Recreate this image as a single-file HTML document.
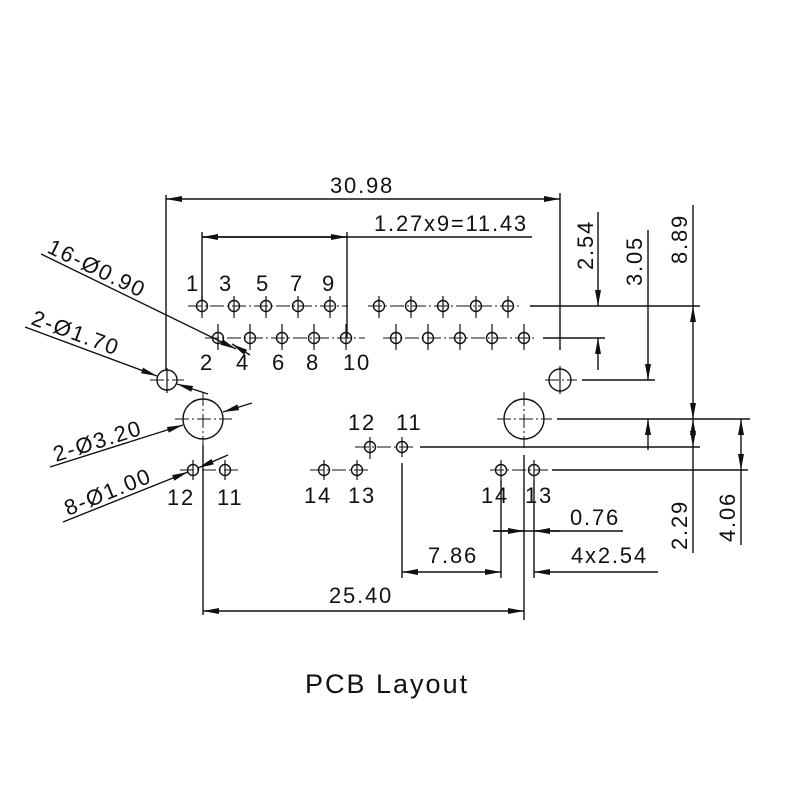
<!DOCTYPE html>
<html><head><meta charset="utf-8"><style>
html,body{margin:0;padding:0;background:#fff;}
svg{display:block;}
text{font-family:"Liberation Sans",sans-serif;fill:#111;font-size:22px;letter-spacing:1.8px;}
</style></head><body>
<svg width="800" height="800" viewBox="0 0 800 800" xmlns="http://www.w3.org/2000/svg">
<defs>
<marker id="a" viewBox="0 0 16 6" refX="16" refY="3" markerWidth="16" markerHeight="6" markerUnits="userSpaceOnUse" orient="auto-start-reverse"><path d="M0,0 L16,3 L0,6 Z" fill="#111"/></marker>
</defs>
<g stroke="#111" stroke-width="1.4" fill="none">
<g stroke-width="1" stroke-dasharray="14,3,2,3">
<line x1="188" y1="306" x2="348" y2="306"/>
<line x1="368" y1="306" x2="520" y2="306"/>
<line x1="205" y1="338" x2="365" y2="338"/>
<line x1="383" y1="338" x2="537" y2="338"/>
<line x1="355" y1="447" x2="415" y2="447"/>
<line x1="310" y1="470" x2="370" y2="470"/>
<line x1="180" y1="470" x2="240" y2="470"/>
<line x1="490" y1="470" x2="548" y2="470"/>
<line x1="150" y1="380" x2="184" y2="380"/>
<line x1="545" y1="380" x2="577" y2="380"/>
<line x1="175" y1="419" x2="232" y2="419"/>
<line x1="497" y1="419" x2="552" y2="419"/>
<line x1="203" y1="392" x2="203" y2="448"/>
<line x1="524" y1="392" x2="524" y2="448"/>
</g>
<g>
<circle cx="202" cy="306" r="5.5"/><circle cx="234" cy="306" r="5.5"/><circle cx="266" cy="306" r="5.5"/><circle cx="298" cy="306" r="5.5"/><circle cx="330" cy="306" r="5.5"/>
<circle cx="379" cy="306" r="5.5"/><circle cx="411" cy="306" r="5.5"/><circle cx="443" cy="306" r="5.5"/><circle cx="476" cy="306" r="5.5"/><circle cx="508" cy="306" r="5.5"/>
<circle cx="218" cy="338" r="5.5"/><circle cx="250" cy="338" r="5.5"/><circle cx="282" cy="338" r="5.5"/><circle cx="314" cy="338" r="5.5"/><circle cx="346" cy="338" r="5.5"/>
<circle cx="396" cy="338" r="5.5"/><circle cx="428" cy="338" r="5.5"/><circle cx="460" cy="338" r="5.5"/><circle cx="492" cy="338" r="5.5"/><circle cx="524" cy="338" r="5.5"/>
<circle cx="370" cy="447" r="5.5"/><circle cx="402" cy="447" r="5.5"/>
<circle cx="324" cy="470" r="5.5"/><circle cx="357" cy="470" r="5.5"/>
<circle cx="193" cy="470" r="5.5"/><circle cx="225" cy="470" r="5.5"/>
<circle cx="501" cy="470" r="5.5"/><circle cx="534" cy="470" r="5.5"/>
<circle cx="167" cy="380" r="10"/><circle cx="560" cy="380" r="11"/>
<circle cx="203" cy="419" r="20"/><circle cx="524" cy="419" r="20"/>
</g>
<g stroke-width="1.2">
<path d="M202 296V318M234 296V318M266 296V318M298 296V318M330 296V318M379 296V318M411 296V318M443 296V318M476 296V318M508 296V318"/>
<path d="M218 324V350M250 324V350M282 324V350M314 324V350M346 324V350M396 324V350M428 324V350M460 324V350M492 324V350M524 324V350"/>
<path d="M370 437V459M402 437V457M324 460V480M357 460V480M193 460V480M225 460V480M501 460V480M534 460V480M167 368V393M560 366V394"/>
</g>
<path d="M166 195V370M560 193V350M202 232V300M347 232V338M202 237H532"/>
<path d="M530 306H700M543 338H605M582 380H655M557 419H750M420 447H700M552 470H748"/>
<path d="M402 463V578M501 480V578M534 480V578M524 455V620M203 445V615M493 531H623"/>
<line x1="166" y1="199" x2="560" y2="199" marker-start="url(#a)" marker-end="url(#a)"/>
<line x1="202" y1="237" x2="347" y2="237" marker-start="url(#a)" marker-end="url(#a)"/>
<line x1="598" y1="212" x2="598" y2="306" marker-end="url(#a)"/>
<line x1="598" y1="370" x2="598" y2="338" marker-end="url(#a)"/>
<line x1="648" y1="230" x2="648" y2="380" marker-end="url(#a)"/>
<line x1="648" y1="450" x2="648" y2="419" marker-end="url(#a)"/>
<line x1="693" y1="306" x2="693" y2="419" marker-start="url(#a)" marker-end="url(#a)"/>
<line x1="693" y1="205" x2="693" y2="306"/>
<line x1="693" y1="447" x2="693" y2="553" />
<line x1="693" y1="419" x2="693" y2="447" marker-start="url(#a)" marker-end="url(#a)"/>
<line x1="741" y1="419" x2="741" y2="470" marker-start="url(#a)" marker-end="url(#a)"/>
<line x1="741" y1="470" x2="741" y2="545"/>
<line x1="402" y1="572" x2="501" y2="572" marker-start="url(#a)" marker-end="url(#a)"/>
<line x1="658" y1="572" x2="534" y2="572" marker-end="url(#a)"/>
<line x1="493" y1="531" x2="524" y2="531" marker-end="url(#a)"/>
<line x1="560" y1="531" x2="534" y2="531" marker-end="url(#a)"/>
<line x1="203" y1="611" x2="524" y2="611" marker-start="url(#a)" marker-end="url(#a)"/>
<line x1="41" y1="254" x2="236" y2="349" marker-end="url(#a)"/>
<line x1="250" y1="355" x2="232" y2="344" marker-end="url(#a)"/>
<line x1="25" y1="327" x2="157" y2="376" marker-end="url(#a)"/>
<line x1="208" y1="394" x2="177" y2="384" marker-end="url(#a)"/>
<line x1="50" y1="467" x2="183" y2="425" marker-end="url(#a)"/>
<line x1="252" y1="403" x2="223" y2="412" marker-end="url(#a)"/>
<line x1="63" y1="522" x2="188" y2="472" marker-end="url(#a)"/>
<line x1="228" y1="455" x2="198" y2="468" marker-end="url(#a)"/>
</g>
<text x="186" y="291">1</text><text x="219" y="291">3</text><text x="256" y="291">5</text><text x="290" y="291">7</text><text x="322" y="291">9</text>
<text x="200" y="370">2</text><text x="236" y="370">4</text><text x="272" y="370">6</text><text x="306" y="370">8</text><text x="343" y="370">10</text>
<text x="348" y="430">12</text><text x="396" y="430">11</text>
<text x="304" y="503">14</text><text x="348" y="503">13</text>
<text x="167" y="505">12</text><text x="217" y="505">11</text>
<text x="481" y="503">14</text><text x="525" y="503">13</text>
<text x="330" y="193">30.98</text>
<text x="374" y="231">1.27x9=11.43</text>
<text x="428" y="563">7.86</text>
<text x="571" y="563">4x2.54</text>
<text x="570" y="525">0.76</text>
<text x="329" y="603">25.40</text>
<text transform="translate(593,270) rotate(-90)">2.54</text>
<text transform="translate(642,286) rotate(-90)">3.05</text>
<text transform="translate(687,264) rotate(-90)">8.89</text>
<text transform="translate(687,550) rotate(-90)">2.29</text>
<text transform="translate(735,542) rotate(-90)">4.06</text>
<text transform="translate(46,252) rotate(25.8)">16-Ø0.90</text>
<text transform="translate(30,324) rotate(20.2)">2-Ø1.70</text>
<text transform="translate(56,462) rotate(-17.6)">2-Ø3.20</text>
<text transform="translate(68,516) rotate(-22)">8-Ø1.00</text>
<text x="305" y="693" style="font-size:27px;letter-spacing:2px">PCB Layout</text>
</svg>
</body></html>
